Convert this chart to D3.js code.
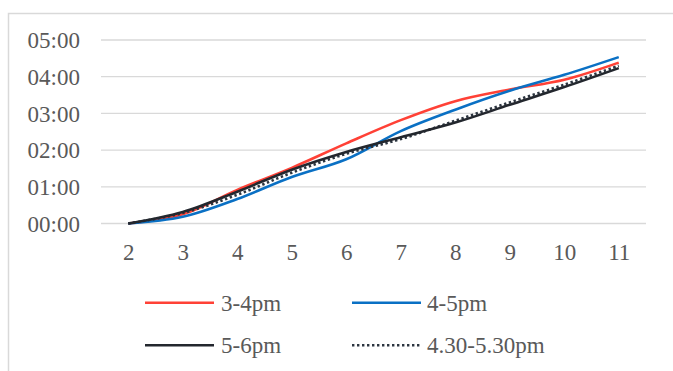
<!DOCTYPE html>
<html><head><meta charset="utf-8">
<script src="https://cdn.jsdelivr.net/npm/d3@7"></script>
<style>body{margin:0;background:#fff}svg{display:block}
text{font-family:"Liberation Serif","Times New Roman",serif;}</style>
</head><body>
<script>
const categories = ["2","3","4","5","6","7","8","9","10","11"];
// values in minutes (hh:mm)
const s34   = [0, 15, 55, 91, 131, 169, 200, 219, 235, 263];
const s45   = [0, 11, 40, 76, 105, 151, 186, 217, 243, 272];
const s56   = [0, 19, 52, 88, 117, 141, 165, 194, 223, 254];
const s4305 = [0, 17, 47, 83, 114, 138, 168, 198, 227, 258];
const seriesNames = ["3-4pm","4-5pm","5-6pm","4.30-5.30pm"];
const yTicks = [0, 60, 120, 180, 240, 300];

const series = [
  {name: seriesNames[0], values: s34,   color: "#ff4136", dash: null},
  {name: seriesNames[1], values: s45,   color: "#0a70c4", dash: null},
  {name: seriesNames[2], values: s56,   color: "#23272e", dash: null},
  {name: seriesNames[3], values: s4305, color: "#2c3540", dash: "2.4 2.6"}
];

const W = 673, H = 371;
const svg = d3.select("body").append("svg").attr("width", W).attr("height", H);

// chart frame
svg.append("rect").attr("x", 8.5).attr("y", 13.5).attr("width", W + 10).attr("height", H + 10)
  .attr("fill", "none").attr("stroke", "#d9d9d9").attr("stroke-width", 1.5);

const x = d3.scalePoint().domain(categories).range([128.25, 618.75]);
const y = d3.scaleLinear().domain([0, 300]).range([223.5, 40]);
const fmt = m => d3.format("02d")(Math.floor(m / 60)) + ":" + d3.format("02d")(m % 60);

// gridlines
svg.append("g").selectAll("line").data(yTicks).join("line")
  .attr("x1", 101).attr("x2", 646)
  .attr("y1", d => y(d)).attr("y2", d => y(d))
  .attr("stroke", "#d9d9d9").attr("stroke-width", 1.3);

// y axis labels
const yAxis = d3.axisLeft(y).tickValues(yTicks).tickFormat(fmt).tickSize(0).tickPadding(0);
const gy = svg.append("g").attr("transform", "translate(80,0)").call(yAxis);
gy.select(".domain").remove();
gy.attr("font-family", null).attr("font-size", null);
gy.selectAll("text").style("font-size", "23px").attr("fill", "#595959").attr("dy", "0.34em");

// x axis labels
const xAxis = d3.axisBottom(x).tickSize(0).tickPadding(0);
const gx = svg.append("g").attr("transform", "translate(0,243)").call(xAxis);
gx.select(".domain").remove();
gx.attr("font-family", null).attr("font-size", null);
gx.selectAll("text").style("font-size", "23px").attr("fill", "#595959").attr("dy", "0.75em");

// lines
const line = d3.line().x((d, i) => x(categories[i])).y(d => y(d)).curve(d3.curveCatmullRom.alpha(0.5));
const order = [0, 1, 3, 2];
svg.append("g").selectAll("path").data(order.map(i => series[i])).join("path")
  .attr("d", d => line(d.values))
  .attr("fill", "none").attr("stroke", d => d.color)
  .attr("stroke-width", 2.6)
  .attr("stroke-dasharray", d => d.dash)
  .attr("stroke-linejoin", "round");

// legend
const legPos = [
  {lx: 145, tx: 221, y: 302.7},
  {lx: 352, tx: 427, y: 302.7},
  {lx: 145, tx: 221, y: 345.3},
  {lx: 352, tx: 427, y: 345.3}
];
const leg = svg.append("g").selectAll("g").data(series).join("g");
leg.append("line")
  .attr("x1", (d, i) => legPos[i].lx).attr("x2", (d, i) => legPos[i].lx + 69)
  .attr("y1", (d, i) => legPos[i].y).attr("y2", (d, i) => legPos[i].y)
  .attr("stroke", d => d.color).attr("stroke-width", 2.6)
  .attr("stroke-dasharray", d => d.dash);
leg.append("text")
  .attr("x", (d, i) => legPos[i].tx).attr("y", (d, i) => legPos[i].y)
  .attr("dy", "0.34em")
  .style("font-size", "23px").attr("fill", "#595959")
  .text(d => d.name);
</script>
</body></html>
